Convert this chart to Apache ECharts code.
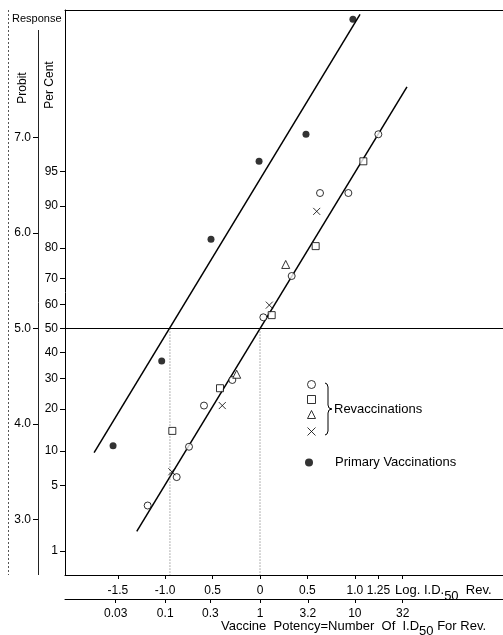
<!DOCTYPE html>
<html>
<head>
<meta charset="utf-8">
<script src="https://cdn.jsdelivr.net/npm/echarts@6/dist/echarts.min.js"></script>
<style>
html, body { margin: 0; padding: 0; background: #fff; }
#chart { width: 503px; height: 635px; }
</style>
</head>
<body>
<div id="chart"></div>
<script>
// points: [log I.D.50, per cent response]
var revCircle = [[-1.185, 3.2], [-0.879, 6.0], [-0.749, 10.8], [-0.591, 21], [-0.292, 29.5],
                 [0.035, 54.7], [0.334, 70.9], [0.633, 92.2], [0.932, 92.2], [1.248, 97.9]];
var revSquare = [[-0.925, 14.2], [-0.422, 26.6], [0.123, 55.6], [0.587, 80.6], [1.09, 96]];
var revTriangle = [[-0.246, 31.6], [0.271, 74.9]];
var revCross = [[-0.93, 6.7], [-0.398, 21], [0.098, 59.7], [0.598, 89]];
var primary = [[-1.55, 11], [-1.037, 36.7], [-0.517, 82.5], [-0.01, 96], [0.485, 97.9], [0.98, 99.94]];

// fitted lines: [log I.D.50, probit]
var primaryFit = [[-1.75, 3.70], [1.055, 8.29]];
var revFit = [[-1.30, 2.876], [1.55, 7.53]];
var ed50 = [-0.95, 0];   // where each line crosses 50 %

// ticks
var percentTicks = [1, 5, 10, 20, 30, 40, 50, 60, 70, 80, 90, 95];
var probitTicks = [3, 4, 5, 6, 7];
var logTicks = [-1.5, -1, -0.5, 0, 0.5, 1, 1.25];
var logTickText = ['-1.5', '-1.0', '0.5', '0', '0.5', '1.0', '1.25'];
var potencyTicks = [0.03, 0.1, 0.3, 1, 3.2, 10, 32];

var xMin = -2.057, xMax = 2.563, yMin = 2.42, yMax = 8.335;
var FONT = '"Liberation Sans", Arial, sans-serif';

// per cent -> probit (Abramowitz & Stegun 26.2.23)
function probit (pct) {
    if (pct == 50) return 5;
    var q = pct < 50 ? pct / 100 : 1 - pct / 100;
    var t = Math.sqrt(-2 * Math.log(q));
    var z = t - (2.515517 + 0.802853 * t + 0.010328 * t * t) /
                (1 + 1.432788 * t + 0.189269 * t * t + 0.001308 * t * t * t);
    return 5 + (pct < 50 ? -z : z);
}

function toProbit (list) {
    return list.map(function (d) { return [d[0], probit(d[1])]; });
}

function near (a, b) { return Math.abs(a - b) < 1e-6; }

var percentPos = percentTicks.map(probit);
var potencyPos = potencyTicks.map(function (v) { return Math.log10(v); });

var blackLine = { color: '#000', width: 1 };

function openSymbol (name, symbol, size, data) {
    return {
        name: name, type: 'scatter', symbol: symbol, symbolSize: size,
        data: toProbit(data),
        itemStyle: { color: '#fff', borderColor: '#000', borderWidth: 1 },
        z: 5
    };
}

var chart = echarts.init(document.getElementById('chart'));
var option = {
    animation: false,
    backgroundColor: '#fff',
    grid: { left: 65, right: 0, top: 10, bottom: 60 },
    xAxis: [
        {
            type: 'value', min: xMin, max: xMax, position: 'bottom',
            axisLine: { onZero: false, lineStyle: blackLine },
            axisTick: { customValues: logTicks.concat([1.5]), length: 4, lineStyle: blackLine },
            axisLabel: {
                customValues: logTicks, margin: 10, color: '#000', fontSize: 12, fontFamily: FONT,
                formatter: function (v) {
                    for (var i = 0; i < logTicks.length; i++) if (near(logTicks[i], v)) return logTickText[i];
                    return '';
                }
            },
            splitLine: { show: false }
        },
        {
            type: 'value', min: xMin, max: xMax, position: 'bottom', offset: 24,
            axisLine: { onZero: false, lineStyle: blackLine },
            axisTick: { customValues: potencyPos, length: 4, lineStyle: blackLine },
            axisLabel: {
                customValues: potencyPos, margin: 9, color: '#000', fontSize: 12, fontFamily: FONT,
                formatter: function (v) {
                    for (var i = 0; i < potencyPos.length; i++) if (near(potencyPos[i], v)) return String(potencyTicks[i]);
                    return '';
                }
            },
            splitLine: { show: false }
        },
        {
            type: 'value', min: xMin, max: xMax, position: 'top',
            axisLine: { onZero: false, lineStyle: blackLine },
            axisTick: { show: false }, axisLabel: { show: false }, splitLine: { show: false }
        }
    ],
    yAxis: [
        {
            type: 'value', min: yMin, max: yMax, position: 'left',
            axisLine: { onZero: false, lineStyle: blackLine },
            axisTick: { customValues: percentPos, length: 5, lineStyle: blackLine },
            axisLabel: {
                customValues: percentPos, margin: 7, color: '#000', fontSize: 12, fontFamily: FONT,
                formatter: function (v) {
                    for (var i = 0; i < percentPos.length; i++) if (near(percentPos[i], v)) return String(percentTicks[i]);
                    return '';
                }
            },
            splitLine: { show: false }
        },
        {
            type: 'value', min: yMin, max: yMax, position: 'left', offset: 27,
            axisLine: { show: false, onZero: false },
            axisTick: { customValues: probitTicks, length: 5, lineStyle: blackLine },
            axisLabel: {
                customValues: probitTicks, margin: 7, color: '#000', fontSize: 12, fontFamily: FONT,
                formatter: function (v) { return v.toFixed(1); }
            },
            splitLine: { show: false }
        }
    ],
    legend: [
        {
            data: ['Revaccinations ○', 'Revaccinations □', 'Revaccinations △', 'Revaccinations ×'],
            orient: 'vertical', left: 305, top: 380, padding: 0,
            itemWidth: 8, itemHeight: 8, itemGap: 6, selectedMode: false,
            itemStyle: { borderWidth: 1 },
            formatter: function () { return ''; },
            textStyle: { fontSize: 1 }
        },
        {
            data: ['Primary Vaccinations'],
            orient: 'vertical', left: 305, top: 456, padding: 0,
            itemWidth: 8, itemHeight: 8, selectedMode: false,
            textStyle: { color: '#000', fontSize: 13, fontFamily: FONT, padding: [0, 0, 0, 17] }
        }
    ],
    series: [
        {
            name: 'primary fit', type: 'line', data: primaryFit, showSymbol: false,
            lineStyle: { color: '#000', width: 1.5 }, silent: true,
            markLine: {
                silent: true, symbol: ['none', 'none'], label: { show: false },
                lineStyle: { color: '#000', width: 1, type: 'solid' },
                data: [{ yAxis: 5 }]
            }
        },
        {
            name: 'rev fit', type: 'line', data: revFit, showSymbol: false,
            lineStyle: { color: '#000', width: 1.5 }, silent: true
        },
        {
            name: 'ed50 primary', type: 'line', data: [[ed50[0], 5], [ed50[0], yMin]], showSymbol: false,
            lineStyle: { color: '#666', width: 1, type: [1, 2] }, silent: true
        },
        {
            name: 'ed50 rev', type: 'line', data: [[ed50[1], 5], [ed50[1], yMin]], showSymbol: false,
            lineStyle: { color: '#666', width: 1, type: [1, 2] }, silent: true
        },
        openSymbol('Revaccinations ○', 'circle', 7, revCircle),
        openSymbol('Revaccinations □', 'rect', 7, revSquare),
        openSymbol('Revaccinations △', 'triangle', 8, revTriangle),
        {
            name: 'Revaccinations ×', type: 'scatter', symbol: 'path://M0,0L10,10M10,0L0,10', symbolSize: 7,
            data: toProbit(revCross),
            itemStyle: { color: 'none', borderColor: '#000', borderWidth: 1 }, z: 5
        },
        {
            name: 'Primary Vaccinations', type: 'scatter', symbol: 'circle', symbolSize: 7,
            data: toProbit(primary), itemStyle: { color: '#000' }, z: 5
        }
    ],
    graphic: [
        { type: 'line', shape: { x1: 8.5, y1: 10, x2: 8.5, y2: 575 }, style: { stroke: '#555', lineWidth: 1, lineDash: [2, 2] } },
        { type: 'line', shape: { x1: 38.5, y1: 30, x2: 38.5, y2: 575 }, style: { stroke: '#222', lineWidth: 1 } },
        { type: 'text', x: 12, y: 19, style: { text: 'Response', font: '11px ' + FONT, fill: '#000', verticalAlign: 'middle' } },
        { type: 'text', x: 23, y: 88, rotation: Math.PI / 2, style: { text: 'Probit', font: '12px ' + FONT, fill: '#000', align: 'center', verticalAlign: 'middle' } },
        { type: 'text', x: 50, y: 85, rotation: Math.PI / 2, style: { text: 'Per Cent', font: '12px ' + FONT, fill: '#000', align: 'center', verticalAlign: 'middle' } },
        {
            type: 'text', x: 395, y: 584,
            style: {
                text: '{a|Log. I.D.}{s|50}{a|  Rev.}', fill: '#000',
                rich: {
                    a: { fontSize: 13, fontFamily: FONT, lineHeight: 19, verticalAlign: 'top' },
                    s: { fontSize: 13, fontFamily: FONT, verticalAlign: 'bottom' }
                }
            }
        },
        {
            type: 'text', x: 221, y: 620,
            style: {
                text: '{a|Vaccine  Potency=Number  Of  I.D}{s|50}{a| For Rev.}', fill: '#000',
                rich: {
                    a: { fontSize: 13, fontFamily: FONT, lineHeight: 18, verticalAlign: 'top' },
                    s: { fontSize: 13, fontFamily: FONT, verticalAlign: 'bottom' }
                }
            }
        },
        {
            type: 'polyline',
            shape: { points: [[325, 383], [327, 384], [328, 387], [328, 405], [329, 408], [332, 409],
                              [329, 410], [328, 413], [328, 431], [327, 434], [325, 435]] },
            style: { stroke: '#000', lineWidth: 1, fill: null }
        },
        { type: 'text', x: 334, y: 409, style: { text: 'Revaccinations', font: '13px ' + FONT, fill: '#000', verticalAlign: 'middle' } }
    ]
};
chart.setOption(option);
</script>
</body>
</html>
